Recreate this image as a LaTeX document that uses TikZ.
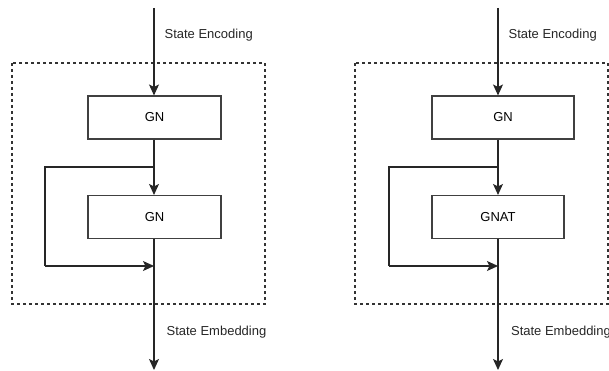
\documentclass[tikz,border=0pt]{standalone}
\usepackage{fontspec}
\setmainfont{Liberation Sans}
\usetikzlibrary{arrows.meta}
\begin{document}
\begin{tikzpicture}[x=1pt,y=-1pt,
  line width=1.2pt,
  flow/.style={draw=black!85, line width=1.2pt, -{Stealth[length=11pt,width=10pt,inset=2.5pt]}},
  plain/.style={draw=black!85, line width=1.2pt},
  block/.style={draw=black!75, line width=1.1pt, minimum height=43pt, inner sep=0pt, font=\fontsize{13}{15}\selectfont},
  frame/.style={draw=black!80, line width=1.1pt, dash pattern=on 3pt off 3pt},
  lbl/.style={anchor=west, inner sep=0pt, font=\fontsize{13}{15}\selectfont, text=black!85}]
\useasboundingbox (0,0) rectangle (609,371);
\begin{scope}
\clip (0,0) rectangle (609,371);

% ---- left module: GN followed by GN with skip connection ----
\draw[frame] (12,63) rectangle (265,304);
\node[block, minimum width=133pt] (gnA) at (154.5,117.5) {GN};
\node[block, minimum width=133pt] (gnB) at (154.5,217) {GN};
\coordinate (inL) at (154,8);
\coordinate (outL) at (154,370);
\coordinate (splitL) at (154,167);
\coordinate (turnL1) at (45,167);
\coordinate (turnL2) at (45,266);
\coordinate (mergeL) at (154,266);
\draw[flow] (inL) -- (inL |- gnA.north);
\draw[flow] (gnA.south -| inL) -- (gnB.north -| inL);
\draw[plain] (splitL) -- (turnL1) -- (turnL2);
\draw[flow] (turnL2) -- (mergeL);
\draw[flow] (gnB.south -| inL) -- (outL);
\node[lbl] (encL) at (164,35) {State Encoding};
\node[lbl] (embL) at (166,332.5) {State Embedding};

% ---- right module: GN followed by GNAT with skip connection ----
\draw[frame] (355,63) rectangle (608,304);
\node[block, minimum width=142pt] (gnC) at (503,117.5) {GN};
\node[block, minimum width=132pt] (gnD) at (498,217) {GNAT};
\coordinate (inR) at (498,8);
\coordinate (outR) at (498,370);
\coordinate (splitR) at (498,167);
\coordinate (turnR1) at (389,167);
\coordinate (turnR2) at (389,266);
\coordinate (mergeR) at (498,266);
\draw[flow] (inR) -- (inR |- gnC.north);
\draw[flow] (gnC.south -| inR) -- (gnD.north -| inR);
\draw[plain] (splitR) -- (turnR1) -- (turnR2);
\draw[flow] (turnR2) -- (mergeR);
\draw[flow] (gnD.south -| inR) -- (outR);
\node[lbl] (encR) at (508,35) {State Encoding};
\node[lbl] (embR) at (510.5,332.5) {State Embedding};
\end{scope}
\end{tikzpicture}
\end{document}
